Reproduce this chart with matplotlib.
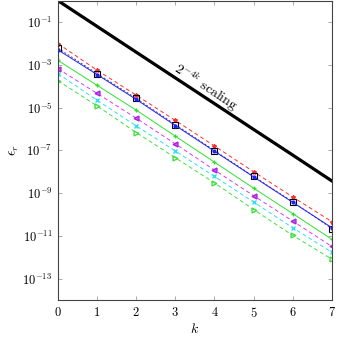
import numpy as np
import matplotlib.pyplot as plt

plt.rcParams['font.family'] = 'serif'
plt.rcParams['font.serif'] = ['cmr10', 'DejaVu Serif']
plt.rcParams['mathtext.fontset'] = 'cm'
plt.rcParams['axes.formatter.use_mathtext'] = True
plt.rcParams['axes.unicode_minus'] = False

# data
k = [0, 1, 2, 3, 4, 5, 6, 7]
ref_line = [1.0, 6.25e-2, 3.9e-3, 2.44e-4, 1.53e-5, 9.5e-7, 6.0e-8, 3.7e-9]
err_red = [9.8e-3, 5.6e-4, 3.8e-5, 2.5e-6, 1.6e-7, 1.0e-8, 6.6e-10, 4.6e-11]
err_square = [6.0e-3, 3.9e-4, 2.7e-5, 1.6e-6, 9.8e-8, 6.0e-9, 3.9e-10, 2.2e-11]
err_blue = [5.0e-3, 3.5e-4, 2.4e-5, 1.45e-6, 9.1e-8, 5.75e-9, 3.7e-10, 2.4e-11]
err_green = [1.6e-3, 1.1e-4, 7.6e-6, 4.6e-7, 2.8e-8, 1.7e-9, 1.1e-10, 6.9e-12]
err_magenta = [6.6e-4, 4.6e-5, 3.2e-6, 2.0e-7, 1.2e-8, 7.6e-10, 4.9e-11, 3.2e-12]
err_cyan = [3.9e-4, 2.2e-5, 1.4e-6, 9.3e-8, 6.0e-9, 3.8e-10, 2.4e-11, 1.7e-12]
err_green_dash = [1.8e-4, 1.2e-5, 6.8e-7, 4.5e-8, 3.0e-9, 1.7e-10, 1.05e-11, 8.1e-13]

fig = plt.figure(figsize=(3.39, 3.39), dpi=100)
ax = fig.add_axes([0.171, 0.115, 0.808, 0.883])

lw = 0.7
ax.plot(k, ref_line, color='black', lw=2.3)
ax.plot(k, err_red, color='#ff3030', lw=lw, dashes=(4, 3), marker='*', ms=3)
ax.plot(k, err_square, color='#505050', lw=lw, dashes=(2, 2), marker='s', ms=4.5,
        mfc='none', mec='black', mew=0.8)
ax.plot(k, err_blue, color='#2020ff', lw=lw, marker='o', ms=2)
ax.plot(k, err_green, color='#30e030', lw=lw, marker='+', ms=3.5)
ax.plot(k, err_magenta, color='#d040f0', lw=lw, dashes=(4, 3), marker='<', ms=3.5,
        mfc='#c060ff', mec='#b020e0')
ax.plot(k, err_cyan, color='#30e0f0', lw=lw, dashes=(4, 3), marker='x', ms=3)
ax.plot(k, err_green_dash, color='#40e040', lw=lw, dashes=(4, 3), marker='>', ms=3.5,
        mfc='none')

ax.set_yscale('log')
ax.set_xlim(0, 7)
ax.set_ylim(1e-14, 1)
ax.set_xticks(k)
ax.set_yticks([1e-1, 1e-3, 1e-5, 1e-7, 1e-9, 1e-11, 1e-13])
ax.yaxis.set_minor_locator(plt.NullLocator())
ax.tick_params(direction='in', top=True, right=True, labelsize=9,
               length=3, width=0.5, color='#888888', pad=4)
for s in ax.spines.values():
    s.set_linewidth(0.8)
    s.set_color('#444444')

ax.text(3.78, 10**-4.06, r'$2^{-4k}$ scaling', rotation=-33.4, fontsize=10,
        ha='center', va='center', rotation_mode='anchor')

ax.set_xlabel(r'$k$', fontsize=10, labelpad=2)
ax.set_ylabel(r'$\epsilon_r$', fontsize=10, labelpad=1)

fig.savefig('out.png', dpi=100)
